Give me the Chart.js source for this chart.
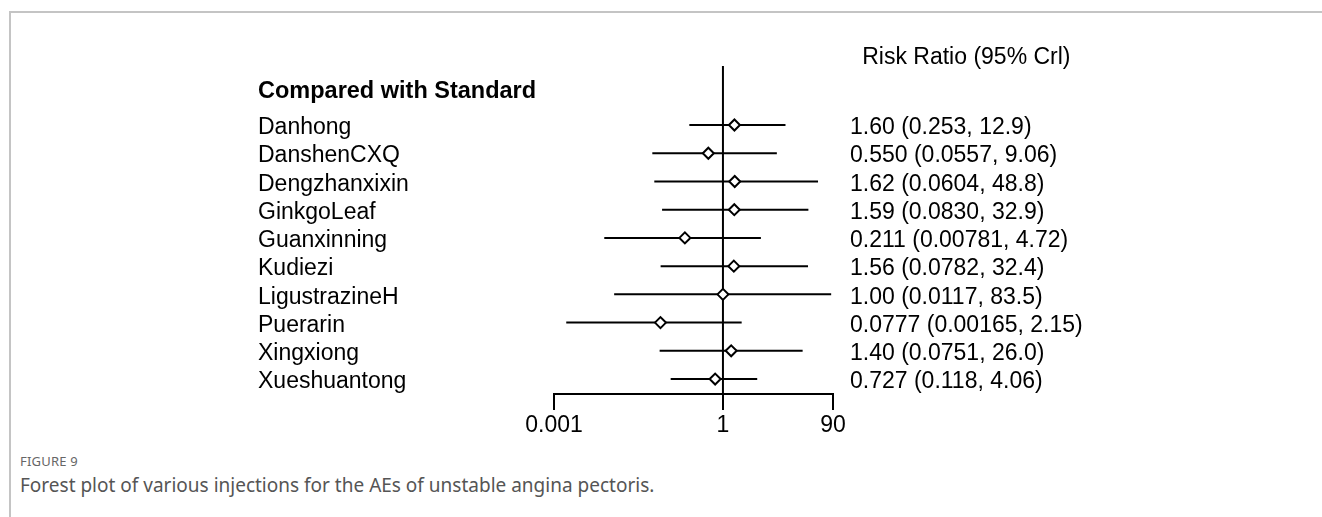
<!DOCTYPE html>
<html>
<head>
<meta charset="utf-8">
<title>Forest plot</title>
<script src="https://cdn.jsdelivr.net/npm/chart.js@4/dist/chart.umd.min.js"></script>
<style>
	html, body { margin: 0; padding: 0; background: #fff; }
	body { width: 1322px; height: 517px; position: relative; overflow: hidden; }
	.frame { position: absolute; left: 9px; top: 11px; right: 0; bottom: 0; border-top: 2px solid #c4c4c4; border-left: 2px solid #c4c4c4; }
	#forestChart { position: absolute; left: 0; top: 0; }
	.fig-label { position: absolute; left: 20px; top: 452px; font-family: "Noto Sans", sans-serif; font-size: 13px; color: #666; letter-spacing: 0.2px; }
	.fig-caption { position: absolute; left: 20px; top: 472px; font-family: "Noto Sans", sans-serif; font-size: 19px; color: #555; }
</style>
</head>
<body>
<div class="frame"></div>
<canvas id="forestChart" width="1322" height="450"></canvas>
<div class="fig-label">FIGURE 9</div>
<div class="fig-caption">Forest plot of various injections for the AEs of unstable angina pectoris.</div>

<script>
'use strict'

var treatments = ['Danhong', 'DanshenCXQ', 'Dengzhanxixin', 'GinkgoLeaf', 'Guanxinning', 'Kudiezi', 'LigustrazineH', 'Puerarin', 'Xingxiong', 'Xueshuantong'];
var riskRatio = [1.60, 0.550, 1.62, 1.59, 0.211, 1.56, 1.00, 0.0777, 1.40, 0.727];
var lowerCrl = [0.253, 0.0557, 0.0604, 0.0830, 0.00781, 0.0782, 0.0117, 0.00165, 0.0751, 0.118];
var upperCrl = [12.9, 9.06, 48.8, 32.9, 4.72, 32.4, 83.5, 2.15, 26.0, 4.06];
var xTicks = [0.001, 1, 90];
var xTickLabels = ['0.001', '1', '90'];
var leftHeader = 'Compared with Standard';
var rightHeader = 'Risk Ratio (95% Crl)';

var FONT = '"Liberation Sans", Arial, sans-serif';
var FSIZE = 23;

// row geometry (in row units, 0 = first treatment)
var yMin = -2.75, yMax = 9.53;
var labelShift = 0.1;          // text sits a little lower than its bar
var leftHeaderRow = -1.28;
var rightHeaderRow = -2.5;
var refLineTop = -2.09;

function fmt(v) { return v.toPrecision(3); }
var crlLabels = riskRatio.map(function(v, i) {
	return fmt(v) + ' (' + fmt(lowerCrl[i]) + ', ' + fmt(upperCrl[i]) + ')';
});

/*-----datasets-----*/
var datasets = [];
datasets.push({
	type: 'scatter',
	data: riskRatio.map(function(v, i) { return { x: v, y: i }; }),
	pointStyle: 'rectRot',
	pointRadius: 5.5,
	pointHoverRadius: 5.5,
	pointBackgroundColor: '#fff',
	pointBorderColor: '#000',
	pointBorderWidth: 2,
	showLine: false,
	order: 0
});
treatments.forEach(function(name, i) {
	datasets.push({
		type: 'line',
		data: [{ x: lowerCrl[i], y: i }, { x: upperCrl[i], y: i }],
		borderColor: '#000',
		borderWidth: 2,
		pointRadius: 0,
		order: 1
	});
});
datasets.push({
	type: 'line',
	data: [{ x: 1, y: refLineTop }, { x: 1, y: yMax }],
	borderColor: '#000',
	borderWidth: 2,
	pointRadius: 0,
	order: 2
});

var rows = treatments.map(function(n, i) { return i; });

/*-----right header drawn next to the value column-----*/
var headerPlugin = {
	id: 'rightHeader',
	afterDraw: function(chart) {
		var s = chart.scales.yR;
		var ctx = chart.ctx;
		ctx.save();
		ctx.font = FSIZE + 'px ' + FONT;
		var widest = 0;
		crlLabels.forEach(function(t) { widest = Math.max(widest, ctx.measureText(t).width); });
		ctx.fillStyle = '#000';
		ctx.textAlign = 'center';
		ctx.textBaseline = 'middle';
		ctx.fillText(rightHeader, s.left + s.options.ticks.padding + widest / 2, s.getPixelForValue(rightHeaderRow));
		ctx.restore();
	}
};

var ctx = document.getElementById('forestChart');
var myChart = new Chart(ctx, {
	type: 'scatter',
	data: { datasets: datasets },
	plugins: [headerPlugin],
	options: {
		responsive: false,
		animation: false,
		devicePixelRatio: 1,
		layout: { padding: { left: 258, right: 0, top: 47.4, bottom: 0 } },
		plugins: { legend: { display: false }, tooltip: { enabled: false } },
		scales: {
			x: {
				type: 'logarithmic',
				position: 'bottom',
				min: 0.001,
				max: 90,
				afterBuildTicks: function(s) { s.ticks = xTicks.map(function(v) { return { value: v }; }); },
				afterFit: function(s) { s.height = 56; },
				border: { display: true, color: '#000', width: 2 },
				grid: { drawOnChartArea: false, drawTicks: true, tickLength: 16, color: '#000', lineWidth: 2 },
				ticks: {
					autoSkip: false,
					maxRotation: 0,
					padding: 2,
					color: '#000',
					font: { family: FONT, size: FSIZE },
					callback: function(v, i) { return xTickLabels[i]; }
				}
			},
			y: {
				type: 'linear',
				display: false,
				reverse: true,
				min: yMin,
				max: yMax
			},
			yL: {
				type: 'linear',
				position: 'left',
				reverse: true,
				min: yMin - labelShift,
				max: yMax - labelShift,
				afterBuildTicks: function(s) {
					s.ticks = [{ value: leftHeaderRow }].concat(rows.map(function(v) { return { value: v }; }));
				},
				afterFit: function(s) { s.width = 296; },
				border: { display: false },
				grid: { display: false, drawTicks: false, tickLength: 0 },
				ticks: {
					autoSkip: false,
					crossAlign: 'far',
					padding: 0,
					color: '#000',
					font: function(c) { return { family: FONT, size: c.index === 0 ? 23.5 : FSIZE, weight: c.index === 0 ? 'bold' : 'normal' }; },
					callback: function(v, i) { return i === 0 ? leftHeader : treatments[i - 1]; }
				}
			},
			yR: {
				type: 'linear',
				position: 'right',
				reverse: true,
				min: yMin - labelShift,
				max: yMax - labelShift,
				afterBuildTicks: function(s) { s.ticks = rows.map(function(v) { return { value: v }; }); },
				afterFit: function(s) { s.width = 489; },
				border: { display: false },
				grid: { display: false, drawTicks: false, tickLength: 0 },
				ticks: {
					autoSkip: false,
					crossAlign: 'near',
					padding: 17,
					color: '#000',
					font: { family: FONT, size: FSIZE },
					callback: function(v, i) { return crlLabels[i]; }
				}
			}
		}
	}
});
</script>
</body>
</html>
